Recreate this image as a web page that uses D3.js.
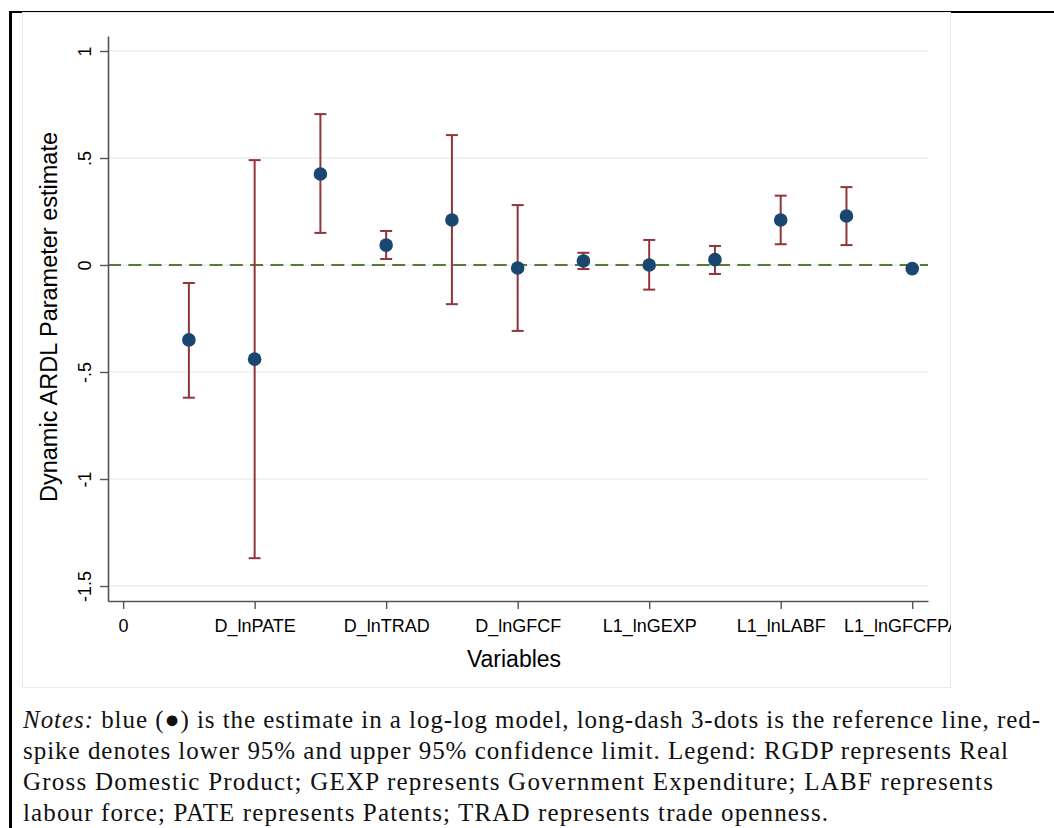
<!DOCTYPE html>
<html>
<head>
<meta charset="utf-8">
<script src="https://cdn.jsdelivr.net/npm/d3@7"></script>
<style>
  body { margin: 0; background: #fff; }
  svg { display: block; }
</style>
</head>
<body>
<svg id="chart" width="1054" height="828"></svg>
<script>
// positions 1..12 on the x axis
var positions = [1, 2, 3, 4, 5, 6, 7, 8, 9, 10, 11, 12];
var estimate = [-0.35, -0.44, 0.425, 0.093, 0.21, -0.014, 0.019, 0.0, 0.025, 0.21, 0.229, -0.017];
var lower = [-0.62, -1.37, 0.15, 0.028, -0.183, -0.308, -0.019, -0.115, -0.042, 0.097, 0.093, -0.025];
var upper = [-0.084, 0.49, 0.705, 0.159, 0.607, 0.28, 0.057, 0.117, 0.089, 0.324, 0.364, -0.01];

var xTicks = [0, 2, 4, 6, 8, 10, 12];
var xTickLabels = ['0', 'D_lnPATE', 'D_lnTRAD', 'D_lnGFCF', 'L1_lnGEXP', 'L1_lnLABF', 'L1_lnGFCFPATE'];
var yTicks = [1, 0.5, 0, -0.5, -1, -1.5];
var yTickLabels = ['1', '.5', '0', '-.5', '-1', '-1.5'];

var notes = [
  'blue (\u25CF) is the estimate in a log-log model, long-dash 3-dots is the reference line, red-',
  'spike denotes lower 95% and upper 95% confidence limit. Legend: RGDP represents Real',
  'Gross Domestic Product; GEXP represents Government Expenditure; LABF represents',
  'labour force; PATE represents Patents; TRAD represents trade openness.'
];
var noteWidths = [1017, 985, 970, 805];

var svg = d3.select('#chart');

// outer frame
svg.append('rect').attr('x', 9).attr('y', 11).attr('width', 3).attr('height', 817).attr('fill', '#000');
svg.append('rect').attr('x', 9).attr('y', 11).attr('width', 1045).attr('height', 2).attr('fill', '#000');

// graph region
svg.append('rect')
  .attr('x', 22.5).attr('y', 12.5)
  .attr('width', 928).attr('height', 675)
  .attr('fill', '#fff')
  .attr('stroke', '#e4eded');

svg.append('clipPath').attr('id', 'region')
  .append('rect').attr('x', 22).attr('y', 12).attr('width', 929).attr('height', 676);

var x = d3.scaleLinear().domain([-0.23, 12.24]).range([108, 928]);
var y = d3.scaleLinear().domain([-1.57, 1.07]).range([601, 36]);

var g = svg.append('g').attr('clip-path', 'url(#region)');

// grid lines
g.selectAll('line.grid')
  .data(yTicks)
  .join('line')
  .attr('class', 'grid')
  .attr('x1', x.range()[0]).attr('x2', x.range()[1])
  .attr('y1', function(d) { return y(d); })
  .attr('y2', function(d) { return y(d); })
  .attr('stroke', '#e8eff3')
  .attr('stroke-width', 1.5);

// reference line
g.append('line')
  .attr('x1', x.range()[0]).attr('x2', x.range()[1])
  .attr('y1', y(0)).attr('y2', y(0))
  .attr('stroke', '#5a7a32')
  .attr('stroke-width', 2.2)
  .attr('stroke-dasharray', '13,7.3');

// axes
var yAxis = d3.axisLeft(y)
  .tickValues(yTicks)
  .tickSize(8)
  .tickSizeOuter(0)
  .tickFormat(function(d, i) { return yTickLabels[i]; });

var xAxis = d3.axisBottom(x)
  .tickValues(xTicks)
  .tickSize(8)
  .tickSizeOuter(0)
  .tickFormat(function(d, i) { return xTickLabels[i]; });

var ya = g.append('g').attr('transform', 'translate(108,0)').call(yAxis);
var xa = g.append('g').attr('transform', 'translate(0,601)').call(xAxis);

[ya, xa].forEach(function(a) {
  a.select('.domain').attr('stroke', '#555').attr('stroke-width', 1.6);
  a.selectAll('.tick line').attr('stroke', '#555').attr('stroke-width', 1.4);
  a.selectAll('.tick text')
    .attr('fill', '#000')
    .style('font-family', '"Liberation Sans", Arial, sans-serif')
    .style('font-size', '18px');
});

ya.selectAll('.tick text')
  .attr('x', null).attr('dy', null)
  .attr('transform', 'translate(-17,0) rotate(-90)')
  .attr('text-anchor', 'middle')
  .attr('y', 0);

xa.selectAll('.tick text').attr('y', 18).attr('dy', '0.71em');

// confidence spikes
var ci = g.selectAll('g.ci')
  .data(positions)
  .join('g')
  .attr('class', 'ci')
  .attr('stroke', '#90353b')
  .attr('stroke-width', 2);

ci.append('line')
  .attr('x1', function(d) { return x(d); })
  .attr('x2', function(d) { return x(d); })
  .attr('y1', function(d, i) { return y(lower[i]); })
  .attr('y2', function(d, i) { return y(upper[i]); });

ci.append('line')
  .attr('x1', function(d) { return x(d) - 6; })
  .attr('x2', function(d) { return x(d) + 6; })
  .attr('y1', function(d, i) { return y(lower[i]); })
  .attr('y2', function(d, i) { return y(lower[i]); });

ci.append('line')
  .attr('x1', function(d) { return x(d) - 6; })
  .attr('x2', function(d) { return x(d) + 6; })
  .attr('y1', function(d, i) { return y(upper[i]); })
  .attr('y2', function(d, i) { return y(upper[i]); });

// estimates
g.selectAll('circle.est')
  .data(positions)
  .join('circle')
  .attr('class', 'est')
  .attr('cx', function(d) { return x(d); })
  .attr('cy', function(d, i) { return y(estimate[i]); })
  .attr('r', 6.8)
  .attr('fill', '#1a476f');

// axis titles
g.append('text')
  .attr('transform', 'translate(57,317) rotate(-90)')
  .attr('text-anchor', 'middle')
  .style('font-family', '"Liberation Sans", Arial, sans-serif')
  .style('font-size', '23.5px')
  .text('Dynamic ARDL Parameter estimate');

g.append('text')
  .attr('x', 514)
  .attr('y', 667)
  .attr('text-anchor', 'middle')
  .style('font-family', '"Liberation Sans", Arial, sans-serif')
  .style('font-size', '23px')
  .text('Variables');

// notes
var nt = svg.selectAll('text.note')
  .data(notes)
  .join('text')
  .attr('class', 'note')
  .attr('x', 23)
  .attr('y', function(d, i) { return 728 + i * 31; })
  .attr('textLength', function(d, i) { return noteWidths[i]; })
  .attr('lengthAdjust', 'spacing')
  .style('font-family', '"Liberation Serif", "Times New Roman", serif')
  .style('font-size', '25px')
  .style('fill', '#111');

nt.each(function(d, i) {
  var t = d3.select(this);
  if (i === 0) {
    t.append('tspan').style('font-style', 'italic').text('Notes:');
    t.append('tspan').text(' ' + d);
  } else {
    t.text(d);
  }
});
</script>
</body>
</html>
